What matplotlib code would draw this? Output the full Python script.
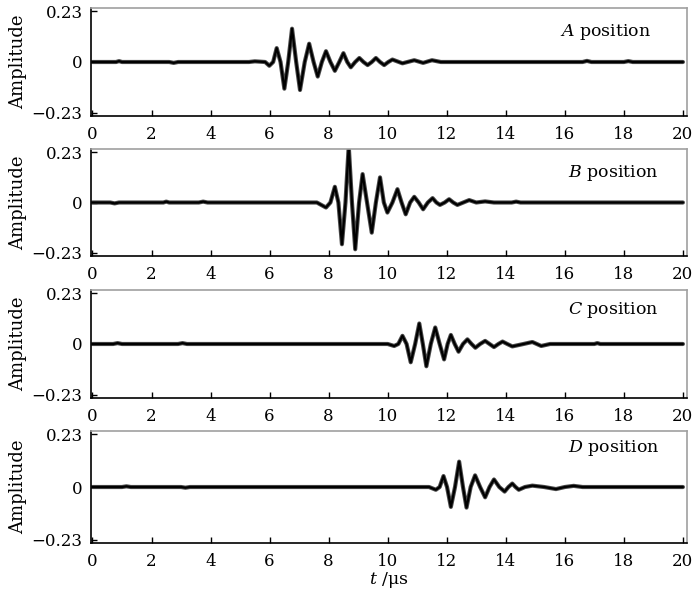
import matplotlib
matplotlib.use('Agg')
import matplotlib.pyplot as plt
import matplotlib.patheffects as pe

plt.rcParams['font.family'] = ['DejaVu Serif']
plt.rcParams['mathtext.fontset'] = 'dejavuserif'

# waveform samples (t in us, amplitude)
A_t = [0.0, 0.8, 0.9, 1.0, 2.6, 2.75, 2.9, 5.3, 5.5, 5.85, 5.99, 6.12, 6.24, 6.37, 6.50, 6.63,
       6.76, 6.90, 7.03, 7.19, 7.34, 7.49, 7.63, 7.77, 7.91, 8.06, 8.21, 8.36, 8.50, 8.63, 8.75,
       8.90, 9.04, 9.18, 9.32, 9.46, 9.60, 9.74, 9.88, 10.02, 10.16, 10.5, 10.9, 11.2, 11.5,
       11.8, 16.6, 16.75, 16.9, 18.0, 18.15, 18.3, 20.0]
A_amp = [0.0, 0.0, 0.004, 0.0, 0.0, -0.004, 0.0, 0.0, 0.003, 0.0, -0.017, 0.0, 0.063, 0.0,
         -0.121, 0.0, 0.151, 0.0, -0.127, 0.0, 0.083, 0.0, -0.066, 0.0, 0.049, 0.0, -0.040,
         0.0, 0.040, 0.0, -0.024, 0.0, 0.018, 0.0, -0.014, 0.0, 0.018, 0.0, -0.014, 0.0,
         0.011, -0.006, 0.008, -0.004, 0.008, 0.0, 0.0, 0.005, 0.0, 0.0, 0.004, 0.0, 0.0]

B_t = [0.0, 0.6, 0.75, 0.9, 2.4, 2.5, 2.6, 3.6, 3.75, 3.9, 7.6, 7.91, 8.06, 8.21, 8.33, 8.45,
       8.57, 8.68, 8.79, 8.90, 9.03, 9.15, 9.30, 9.46, 9.60, 9.74, 9.87, 9.99, 10.16, 10.33,
       10.47, 10.61, 10.76, 10.90, 11.05, 11.20, 11.36, 11.52, 11.65, 11.77, 11.93, 12.08,
       12.22, 12.36, 12.56, 12.76, 13.0, 13.3, 13.6, 14.2, 14.35, 14.5, 20.0]
B_amp = [0.0, 0.0, -0.004, 0.0, 0.0, 0.004, 0.0, 0.0, 0.004, 0.0, 0.0, -0.023, 0.0, 0.072,
         0.0, -0.191, 0.0, 0.26, 0.0, -0.214, 0.0, 0.130, 0.0, -0.138, 0.0, 0.115, 0.0,
         -0.046, 0.0, 0.061, 0.0, -0.054, 0.0, 0.026, 0.0, -0.031, 0.0, 0.020, 0.0, -0.011,
         0.0, 0.015, 0.0, -0.011, 0.0, 0.011, 0.0, 0.005, 0.0, 0.0, 0.004, 0.0, 0.0]

C_t = [0.0, 0.7, 0.85, 1.0, 2.9, 3.05, 3.2, 10.0, 10.22, 10.36, 10.50, 10.64, 10.78, 10.93,
       11.07, 11.19, 11.31, 11.46, 11.61, 11.76, 11.91, 12.03, 12.14, 12.27, 12.40, 12.55,
       12.70, 12.84, 12.97, 13.13, 13.30, 13.45, 13.60, 13.75, 13.89, 14.05, 14.22, 14.6,
       14.9, 15.2, 15.5, 17.0, 17.1, 17.2, 20.0]
C_amp = [0.0, 0.0, 0.004, 0.0, 0.0, 0.004, 0.0, 0.0, -0.009, 0.0, 0.037, 0.0, -0.083, 0.0,
         0.093, 0.0, -0.101, 0.0, 0.075, 0.0, -0.070, 0.0, 0.041, 0.0, -0.035, 0.0, 0.021,
         0.0, -0.017, 0.0, 0.014, 0.0, -0.014, 0.0, 0.011, 0.0, -0.011, 0.0, 0.009, -0.009,
         0.0, 0.0, 0.004, 0.0, 0.0]

D_t = [0.0, 1.0, 1.15, 1.3, 3.0, 3.15, 3.3, 11.4, 11.63, 11.76, 11.89, 12.01, 12.14, 12.28,
       12.42, 12.55, 12.67, 12.81, 12.96, 13.13, 13.30, 13.45, 13.60, 13.78, 13.96, 14.09,
       14.22, 14.33, 14.44, 14.65, 14.9, 15.3, 15.7, 16.0, 16.3, 16.6, 20.0]
D_amp = [0.0, 0.0, 0.003, 0.0, 0.0, -0.003, 0.0, 0.0, -0.012, 0.0, 0.048, 0.0, -0.087, 0.0,
         0.111, 0.0, -0.090, 0.0, 0.051, 0.0, -0.045, 0.0, 0.033, 0.0, -0.020, 0.0, 0.015,
         0.0, -0.012, 0.0, 0.006, 0.0, -0.009, 0.0, 0.005, 0.0, 0.0]

positions = ['A', 'B', 'C', 'D']
series = [(A_t, A_amp), (B_t, B_amp), (C_t, C_amp), (D_t, D_amp)]
x_ticks = list(range(0, 21, 2))
y_ticks = [-0.23, 0, 0.23]
y_ticklabels = ['\u22120.23', '0', '0.23']

# [bottom, height] of each panel in figure fraction, label placement in axes fraction
boxes = [(0.8037, 0.1828), (0.5668, 0.1811), (0.3266, 0.1827), (0.0812, 0.1895)]
label_xy = [(0.787, 0.78), (0.80, 0.78), (0.80, 0.815), (0.80, 0.85)]

fig = plt.figure(figsize=(6.93, 5.91), dpi=100)

for i, (name, (t, amp)) in enumerate(zip(positions, series)):
    bottom, height = boxes[i]
    ax = fig.add_axes([0.1313, bottom, 0.8597, height])
    # dark line with a grey halo, like the densely marked trace in the original
    ax.plot(t, amp, color='black', lw=1.6, solid_joinstyle='round', solid_capstyle='round',
            path_effects=[pe.Stroke(linewidth=3.0, foreground='#4a4a4a'), pe.Normal()])
    ax.set_xlim(-0.05, 20.13)
    ax.set_ylim(-0.245, 0.245)
    ax.set_xticks(x_ticks)
    ax.set_yticks(y_ticks)
    ax.set_yticklabels(y_ticklabels)
    ax.tick_params(direction='in', length=4, width=1, labelsize=12,
                   top=False, right=False, pad=6)
    ax.tick_params(axis='x', pad=7)
    for side in ['left', 'bottom']:
        ax.spines[side].set_color('black')
        ax.spines[side].set_linewidth(1.2)
    for side in ['top', 'right']:
        ax.spines[side].set_color('#a0a0a0')
        ax.spines[side].set_linewidth(1.2)
    ax.set_ylabel('Amplitude', fontsize=13)
    ax.yaxis.set_label_coords(-0.108, 0.5)
    lx, ly = label_xy[i]
    ax.text(lx, ly, f'${name}$ position', transform=ax.transAxes,
            fontsize=12.5, ha='left', va='center')
    if i == 3:
        ax.set_xlabel('$t$ /\u03bcs', fontsize=12.5, labelpad=0)

fig.savefig('out.png', dpi=100)
